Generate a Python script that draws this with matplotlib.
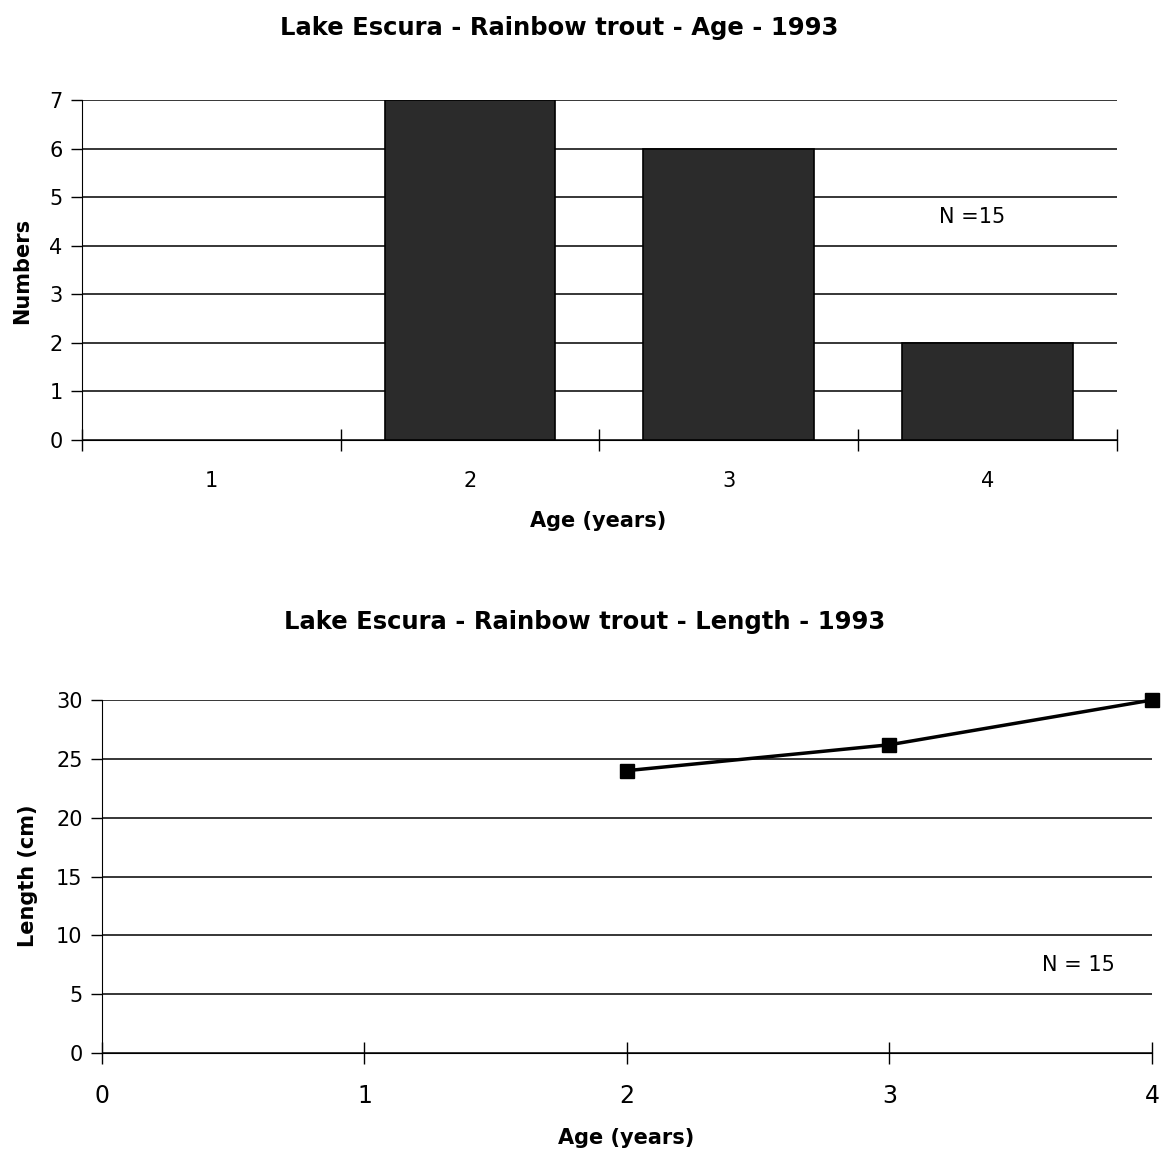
import matplotlib
matplotlib.use("Agg")
import matplotlib.pyplot as plt

plt.rcParams['font.family'] = ['DejaVu Sans']

# age distribution
ages = [1, 2, 3, 4]
age_counts = [0, 7, 6, 2]
age_yticks = [0, 1, 2, 3, 4, 5, 6, 7]

# mean length by age
length_ages = [2, 3, 4]
lengths = [24, 26.2, 30]
length_xticks = [0, 1, 2, 3, 4]
length_yticks = [0, 5, 10, 15, 20, 25, 30]

fig = plt.figure(figsize=(11.64, 11.51), dpi=100)

# ---- top chart: bars ----
ax1 = fig.add_axes([0.0704, 0.6177, 0.8892, 0.2954])
bars = ax1.bar(ages, age_counts, width=0.66, color='#2b2b2b', edgecolor='black',
               linewidth=1.2, zorder=3)
for b, c in zip(bars, age_counts):
    if c == 0:
        b.set_visible(False)
ax1.set_xlim(0.5, 4.5)
ax1.set_ylim(0, 7)
ax1.set_yticks(age_yticks)
ax1.set_xticks([a - 0.5 for a in ages] + [ages[-1] + 0.5])
ax1.set_xticklabels([])
ax1.set_xticks(ages, minor=True)
ax1.set_xticklabels([str(a) for a in ages], minor=True)
ax1.tick_params(axis='x', which='minor', length=0, pad=22, labelsize=15)
ax1.tick_params(axis='x', which='major', direction='inout', length=16, width=1)
ax1.tick_params(axis='y', direction='out', length=8, width=1, labelsize=15, pad=6)
ax1.yaxis.grid(True, color='black', linewidth=1.1, zorder=0)
ax1.set_axisbelow(True)
for s in ['top', 'right']:
    ax1.spines[s].set_visible(False)
ax1.text(0.86, 0.655, 'N =15', transform=ax1.transAxes, fontsize=15,
         ha='center', va='center')
fig.text(0.48, 0.976, 'Lake Escura - Rainbow trout - Age - 1993',
         ha='center', va='center', fontsize=17.5, fontweight='bold')
fig.text(0.514, 0.547, 'Age (years)', ha='center', va='center',
         fontsize=15, fontweight='bold')
fig.text(0.019, 0.765, 'Numbers', ha='center', va='center', rotation=90,
         fontsize=15, fontweight='bold')

# ---- bottom chart: line ----
ax2 = fig.add_axes([0.0876, 0.0851, 0.9021, 0.3067])
ax2.plot(length_ages, lengths, color='black', linewidth=2.5, marker='s',
         markersize=10, zorder=3, clip_on=False)
ax2.set_xlim(0, 4)
ax2.set_ylim(0, 30)
ax2.set_xticks(length_xticks)
ax2.set_yticks(length_yticks)
ax2.tick_params(axis='x', direction='inout', length=16, width=1,
                labelsize=17, pad=14)
ax2.tick_params(axis='y', direction='out', length=8, width=1, labelsize=15, pad=6)
ax2.yaxis.grid(True, color='black', linewidth=1.1, zorder=0)
ax2.set_axisbelow(True)
for s in ['top', 'right']:
    ax2.spines[s].set_visible(False)
ax2.text(0.93, 0.25, 'N = 15', transform=ax2.transAxes, fontsize=15,
         ha='center', va='center')
fig.text(0.502, 0.46, 'Lake Escura - Rainbow trout - Length - 1993',
         ha='center', va='center', fontsize=17.5, fontweight='bold')
fig.text(0.538, 0.011, 'Age (years)', ha='center', va='center',
         fontsize=15, fontweight='bold')
fig.text(0.024, 0.239, 'Length (cm)', ha='center', va='center', rotation=90,
         fontsize=15, fontweight='bold')

fig.savefig('out.png', dpi=100)
